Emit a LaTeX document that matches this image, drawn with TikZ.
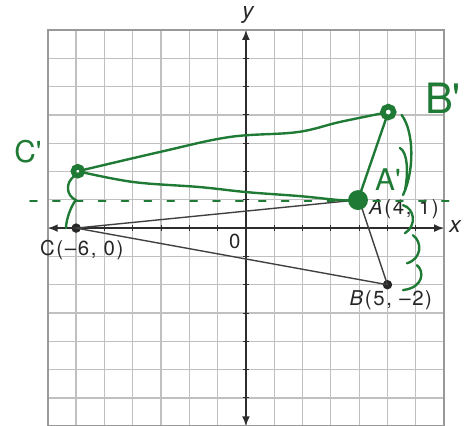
\documentclass[tikz,border=0pt]{standalone}
\usepackage{fontspec}
\setsansfont{TeX Gyre Heros}
\newfontfamily\lblfont[LetterSpace=8]{TeX Gyre Heros}
\usepackage{tikz}
\usetikzlibrary{arrows.meta,positioning}
\definecolor{penGreen}{RGB}{30,122,52}
\definecolor{gridGray}{RGB}{192,192,192}
\definecolor{axisGray}{RGB}{45,45,45}

\begin{document}
\begin{tikzpicture}[
    >=Latex,
    font=\sffamily,
    gridline/.style={gridGray, line width=1.3pt},
    gridborder/.style={gray!80, line width=1.8pt},
    axis/.style={
        axisGray,
        line width=1.7pt,
        {Latex[length=3.5mm,width=2.8mm]}-{Latex[length=3.5mm,width=2.8mm]}
    },
    tickmark/.style={axisGray, line width=1pt},
    side/.style={black!75, line width=1.4pt},
    dot/.style={circle, fill=black!85, inner sep=0pt, minimum size=9.5pt},
    lbl/.style={font=\lblfont\fontsize{20.5}{23}\selectfont, text=black!85, inner sep=1pt},
    axlbl/.style={font=\sffamily\itshape\fontsize{23}{25}\selectfont, text=black!85, inner sep=1pt},
    penline/.style={penGreen, line width=2.4pt, line cap=round, line join=round},
    pendash/.style={penGreen, line width=1.8pt, line cap=round, dash pattern=on 7pt off 16pt},
    pendot/.style={circle, draw=penGreen, fill=white, line width=5.5pt, inner sep=0pt, minimum size=9pt},
    penbig/.style={circle, fill=penGreen, inner sep=0pt, minimum size=20pt},
    penlbl/.style={text=penGreen, inner sep=0pt}
]

\useasboundingbox (-8.69,-6.96) rectangle (7.74,8.06);

% grid
\draw[gridline] (-7,-7) grid (7,7);
\draw[gridborder] (-7,-7) rectangle (7,7);

% axes
\coordinate (xl) at (-7,0);
\coordinate (xr) at (7,0);
\coordinate (yb) at (0,-7);
\coordinate (yt) at (0,7);
\draw[axis] (xl) -- (xr);
\draw[axis] (yb) -- (yt);
\foreach \k in {-6,...,-1,1,2,...,6} {
    \draw[tickmark] (\k,-0.1) -- (\k,0.1);
    \draw[tickmark] (-0.1,\k) -- (0.1,\k);
}

\node[axlbl] (lblX) at (7.39,0.04) {x};
\node[axlbl] (lblY) at (0.07,7.53) {y};
\node[lbl] (lblO) at (-0.39,-0.46) {0};

% triangle ABC
\node[dot] (A) at (4,1) {};
\node[dot] (B) at (5,-2) {};
\node[dot] (C) at (-6,0) {};
\draw[side] (A.center) -- (B.center) -- (C.center) -- cycle;

\node[lbl] (lblA) at (5.58,0.67) {\textit{A}(4, 1)};
\node[lbl] (lblB) at (5.12,-2.54) {\textit{B}(5, –2)};
\node[lbl] (lblC) at (-5.80,-0.78) {C(–6, 0)};

% reflection line y = 1
\coordinate (dl) at (-7.63,0.95);
\coordinate (dr) at (7.67,0.95);
\draw[pendash] (dl) -- (dr);

% image points
\coordinate (Ap) at (3.96,0.99);
\coordinate (Bp) at (5.03,4.1);
\coordinate (Cp) at (-5.94,2.01);

% image triangle
\draw[penline] plot[smooth, tension=0.6] coordinates
    {(Cp) (-3.04,2.69) (-0.57,3.22) (1.80,3.39) (3.32,3.75) (Bp)};
\draw[penline] plot[smooth, tension=0.6] coordinates
    {(Cp) (-3.99,1.63) (-1.63,1.45) (0.04,1.27) (1.91,1.13) (3.32,0.99) (Ap)};
\draw[penline] (Ap) -- (Bp);

% distance marks
\draw[penline] (-6.05,1.85) .. controls (-6.4,1.6) and (-6.35,1.15) .. (-6.01,0.99)
    .. controls (-6.2,0.75) and (-6.35,0.3) .. (-6.36,0.0);
\draw[penline] (5.5,4.0) .. controls (5.95,3.4) and (5.95,2.0) .. (5.55,1.17);
\draw[penline] (5.44,2.83) .. controls (5.7,2.7) and (5.75,2.0) .. (5.62,1.34);
\draw[penline] (5.55,0.81) .. controls (5.95,0.7) and (6.05,0.1) .. (5.62,-0.18);
\draw[penline] (5.90,-0.25) .. controls (6.25,-0.5) and (6.2,-1.1) .. (5.69,-1.24);
\draw[penline] (6.04,-1.31) .. controls (6.3,-1.5) and (6.3,-2.1) .. (5.55,-2.19);

% image dots
\node[penbig] (dotA) at (Ap) {};
\node[pendot, minimum size=11pt] (dotB) at (Bp) {};
\node[pendot] (dotC) at (Cp) {};

% image labels
\node[penlbl, font=\sffamily\fontsize{30}{32}\selectfont] (lblCp) at (-7.70,2.69) {C\textquotesingle};
\node[penlbl, font=\sffamily\fontsize{42}{44}\selectfont] (lblBp) at (6.96,4.59) {B\textquotesingle};
\node[penlbl, font=\sffamily\fontsize{30}{32}\selectfont] (lblAp) at (5.02,1.70) {A\textquotesingle};

\end{tikzpicture}
\end{document}
